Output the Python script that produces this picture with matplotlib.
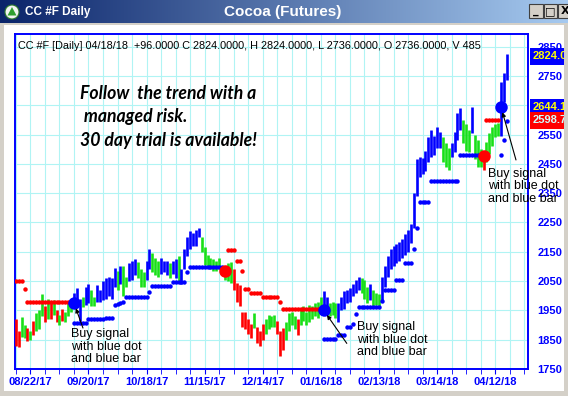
import numpy as np
import matplotlib.pyplot as plt
from matplotlib.patches import Rectangle, Circle, Polygon

# daily bars, 08/15/17 .. 04/18/18 (one entry per trading day)
highs = [1920, 1880, 1927, 1900, 1890, 1880, 1915, 1940, 1950, 2005,
         1965, 1990, 1975, 1985, 1950, 1935, 1955, 1945, 1980, 1990,
         2010, 2025, 1990, 1995, 2030, 2040, 2020, 1995, 2035, 2020,
         2050, 2060, 2065, 2060, 2095, 2085, 2100, 2100, 2065, 2110,
         2120, 2125, 2115, 2090, 2080, 2120, 2160, 2145, 2130, 2120,
         2130, 2120, 2120, 2110, 2120, 2125, 2135, 2090, 2160, 2200,
         2220, 2215, 2225, 2232, 2200, 2165, 2140, 2130, 2125, 2120,
         2130, 2100, 2090, 2110, 2115, 2090, 2045, 2035, 1945, 1945,
         1920, 1905, 1940, 1895, 1880, 1905, 1920, 1935, 1930, 1935,
         1915, 1880, 1890, 1910, 1940, 1945, 1930, 1920, 1955, 1965,
         1945, 1970, 1965, 1975, 1980, 1995, 2015, 1995, 1975, 1980,
         1975, 1975, 1995, 2015, 2020, 2025, 2040, 2055, 2065, 2060,
         2055, 2030, 2040, 2020, 2010, 2005, 2065, 2100, 2135, 2160,
         2170, 2175, 2185, 2195, 2210, 2225, 2245, 2350, 2465, 2475,
         2470, 2495, 2540, 2565, 2545, 2575, 2560, 2540, 2520, 2505,
         2520, 2560, 2625, 2640, 2600, 2585, 2565, 2645, 2550, 2530,
         2500, 2490, 2525, 2555, 2575, 2585, 2590, 2730, 2760, 2824]
lows = [1828, 1825, 1860, 1855, 1845, 1850, 1865, 1880, 1885, 1930,
        1910, 1920, 1920, 1935, 1910, 1900, 1915, 1910, 1930, 1945,
        1960, 1965, 1915, 1960, 1970, 1975, 1965, 1965, 1980, 1980,
        1985, 1990, 2000, 1990, 2030, 2020, 2040, 2000, 2030, 2050,
        2055, 2070, 2060, 2030, 2030, 2055, 2090, 2080, 2070, 2065,
        2075, 2080, 2070, 2060, 2075, 2060, 2050, 2040, 2090, 2135,
        2160, 2170, 2170, 2200, 2150, 2105, 2100, 2090, 2085, 2085,
        2090, 2070, 2055, 2050, 2045, 2020, 1980, 1965, 1895, 1885,
        1870, 1855, 1890, 1840, 1830, 1850, 1870, 1885, 1895, 1895,
        1870, 1795, 1815, 1850, 1880, 1900, 1885, 1865, 1900, 1915,
        1900, 1910, 1920, 1930, 1925, 1950, 1960, 1935, 1930, 1935,
        1925, 1910, 1950, 1955, 1975, 1980, 2000, 2010, 2020, 2010,
        1990, 1975, 1985, 1965, 1970, 1965, 1980, 2030, 2065, 2090,
        2100, 2110, 2120, 2130, 2140, 2150, 2180, 2230, 2340, 2405,
        2415, 2425, 2455, 2475, 2480, 2505, 2505, 2455, 2440, 2430,
        2475, 2490, 2530, 2565, 2520, 2495, 2490, 2555, 2465, 2440,
        2440, 2430, 2455, 2485, 2510, 2540, 2545, 2545, 2660, 2736]
# r = down bar, g = neutral bar, b = up bar
bar_colors = ("rrggrgrgggrgrgrgrggg"
              "bbbgbbggbbbbbbbgbggb"
              "bbgggbbgggbbbgbbgbbb"
              "bbbbgggggggrgggrrrrr"
              "rrgrrrggggrrrggggrgg"
              "ggggggbbgggbbbbbbbbg"
              "ggbgggbbbbbbbbbbbbbb"
              "bbbbbbbgggbbbbgggbgg"
              "grgggggbbb")

# trailing stop dots (None = no dot)
stops = ([2050] * 3 + [2022] + [1978] * 16 + [1906] * 5 + [1920] * 6
         + [1925] * 3 + [1968, 1972, 1975, 1978] + [1995] * 8 + [2012]
         + [2032] * 7 + [2046] * 5 + [2080] + [2097] * 12 + [None]
         + [2155] * 3 + [2117] * 2 + [2083] + [2022] * 2 + [2008] * 4
         + [1995] * 6 + [1978] + [1954] * 14 + [1852] * 5 + [1866] * 3
         + [1895] * 2 + [1905, 1937] + [1960] * 8 + [1981] + [2020] * 4
         + [2055] * 3 + [2110] * 3 + [2160, 2230] + [2320] * 4
         + [2390] * 10 + [2481] * 8 + [None] + [2600] * 5
         + [2481, 2532, 2597])

# signals: bar index, price, kind
sig_idx = [20, 72, 106, 161, 167]
sig_price = [1975, 2083, 1950, 2478, 2644.1]
sig_kind = ["buy", "sell", "buy", "sell", "buy"]

date_labels = ["08/22/17", "09/20/17", "10/18/17", "11/15/17", "12/14/17",
               "01/16/18", "02/13/18", "03/14/18", "04/12/18"]
y_ticks = list(range(1750, 2900, 100))

header = ("CC #F [Daily] 04/18/18  +96.0000 C 2824.0000, H 2824.0000, "
          "L 2736.0000, O 2736.0000, V 485")
promo = "Follow  the trend with a\n managed risk.\n30 day trial is available!"
buy_note = "Buy signal\nwith blue dot\nand blue bar"

BLUE, RED, GREEN = "#0000ff", "#ff0000", "#18e018"
cmap = {"r": RED, "g": GREEN, "b": BLUE}
GRID = "#b0f4f4"

W, H = 568, 396
fig = plt.figure(figsize=(W / 100, H / 100), dpi=100)
fig.patch.set_facecolor("white")


def fx(px):
    return px / W


def fy(py):
    return 1 - py / H


# ---- window chrome ----
tb = fig.add_axes([0, fy(23), 1, 23 / H])
c0 = np.array([10, 36, 106]) / 255
c1 = np.array([166, 202, 240]) / 255
g = np.linspace(0, 1, 256)[:, None]
tb.imshow((c0 + (c1 - c0) * g)[None, :, :], aspect="auto", extent=[0, W, 23, 0])
tb.set_xlim(0, W)
tb.set_ylim(23, 0)
tb.axis("off")
tb.add_patch(Circle((12, 12), 7, fc="#f0f4f0", ec="#2c7a2c", lw=0.8))
tb.add_patch(Polygon([[7.5, 15.5], [16.5, 15.5], [12, 7]], fc="#2ea02e", ec="none"))
tb.text(25, 12.5, "CC #F Daily", color="white", fontsize=8.5, fontweight="bold",
        family="Liberation Sans", va="center")
tb.text(283, 12, "Cocoa (Futures)", color="white", fontsize=11, fontweight="bold",
        family="Liberation Sans", va="center", ha="center")
for bx, glyph in [(529, "_"), (543.5, "□"), (558, "X")]:
    tb.add_patch(Rectangle((bx, 4), 13.5, 14, fc="#d4d0c8", ec="#404040", lw=0.8))
    tb.text(bx + 6.75, 11.5, glyph, fontsize=8, fontweight="bold", ha="center",
            va="center", color="black")

fig.add_artist(Rectangle((0, 0), fx(4), fy(23), transform=fig.transFigure,
                         fc="#d4d0c8", ec="none"))
fig.add_artist(Rectangle((fx(564), 0), fx(4), fy(23), transform=fig.transFigure,
                         fc="#d4d0c8", ec="none"))
fig.add_artist(Rectangle((0, 0), 1, 5 / H, transform=fig.transFigure,
                         fc="#d4d0c8", ec="none"))
fig.add_artist(Rectangle((0, fy(25)), 1, 2 / H, transform=fig.transFigure,
                         fc="#d4d0c8", ec="none"))

# ---- price chart ----
ax = fig.add_axes([fx(15), fy(369), fx(528) - fx(15), fy(34) - fy(369)])
ax.set_xlim(-0.3, 176.3)
ax.set_ylim(1753, 2893)

idx = np.arange(len(highs))
ax.vlines(idx, lows, highs, colors=[cmap[c] for c in bar_colors], lw=1.9, zorder=3)

stop_arr = np.array([np.nan if s is None else s for s in stops], dtype=float)
trend = np.empty(len(highs), dtype=object)
trend[:] = "r"
for i, k in zip(sig_idx, sig_kind):
    trend[i:] = "b" if k == "buy" else "r"
for t, col in [("r", RED), ("b", BLUE)]:
    m = trend == t
    ax.plot(idx[m], stop_arr[m], "o", ms=3.2, color=col, mec="none", zorder=4)

for i, p, k in zip(sig_idx, sig_price, sig_kind):
    ax.plot(i, p, "o", ms=9, color=BLUE if k == "buy" else RED, mec="none", zorder=5)

# annotation layout (pixel offsets from the signal point)
note_text_off = [(-3, -25), (33, -11), (-13, -61)]
note_arrow_off = [(9, -25), (23, -33), (15, -53)]
buys = [(i, p) for i, p, k in zip(sig_idx, sig_price, sig_kind) if k == "buy"]
for (i, p), toff, aoff in zip(buys, note_text_off, note_arrow_off):
    ax.annotate(buy_note, (i, p), xytext=toff, textcoords="offset pixels",
                ha="left", va="top", fontsize=9, family="Liberation Sans",
                linespacing=1.05, zorder=6)
    ax.annotate("", (i, p), xytext=aoff, textcoords="offset pixels",
                arrowprops=dict(arrowstyle="-|>", color="black", lw=0.8,
                                mutation_scale=6, shrinkA=0, shrinkB=4), zorder=6)

ax.text(0.006, 0.964, header, transform=ax.transAxes, fontsize=7.8,
        family="Liberation Sans", va="center", zorder=6)
ax.text(0.127, 0.848, promo, transform=ax.transAxes, fontsize=12.7,
        family="Lato", fontweight="bold", style="italic", va="top",
        linespacing=1.45, zorder=6)

# axes styling
ax.set_yticks(y_ticks)
ax.yaxis.tick_right()
ax.set_yticklabels([str(v) for v in y_ticks], fontweight="bold",
                   family="Liberation Sans")
ax.tick_params(axis="y", length=0, pad=7, labelcolor=BLUE, labelsize=8)
ax.set_xticks(np.arange(5, 170, 20))
ax.set_xticklabels(date_labels, fontweight="bold", family="Liberation Sans")
ax.set_xticks(np.arange(0, 177, 5), minor=True)
ax.tick_params(axis="x", which="both", length=3.6, color=BLUE, direction="out",
               pad=2, labelcolor=BLUE, labelsize=8)
ax.grid(axis="x", which="both", color=GRID, lw=0.8)
ax.grid(axis="y", which="major", color=GRID, lw=0.8)
ax.set_axisbelow(True)
for s in ax.spines.values():
    s.set_color(BLUE)
    s.set_linewidth(1.4)

# last-value boxes on the price scale
boxes = [(2824.0, "2824.0000", "#ffff00", BLUE, -2),
         (2644.1, "2644.1000", "#ffff00", BLUE, 0),
         (2598.7, "2598.7000", "#d0ffff", RED, 0)]
for val, txt, fc, bc, dy in boxes:
    ax.annotate(txt, (1, val), xycoords=("axes fraction", "data"),
                xytext=(5, dy), textcoords="offset pixels", ha="left", va="center",
                fontsize=8, fontweight="bold", family="Liberation Sans", color=fc,
                bbox=dict(boxstyle="square,pad=0.3", fc=bc, ec="none"),
                annotation_clip=False, zorder=7)

fig.savefig("out.png", dpi=100)
